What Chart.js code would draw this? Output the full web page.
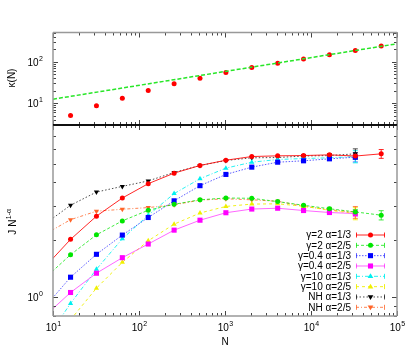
<!DOCTYPE html>
<html>
<head>
<meta charset="utf-8">
<script src="https://cdn.jsdelivr.net/npm/chart.js@4/dist/chart.umd.min.js"></script>
<style>
  body { margin: 0; background: #fff; }
  #wrap { position: relative; width: 415px; height: 348px; }
  canvas { position: absolute; left: 0; top: 0; }
</style>
</head>
<body>
<div id="wrap">
  <canvas id="kappaChart" width="415" height="348"></canvas>
  <canvas id="jChart" width="415" height="348"></canvas>
</div>
<script>
// ---- top panel: kappa(N) ----
const kappaN = [16, 32, 64, 128, 256, 512, 1024, 2048, 4096, 8192, 16384, 32768, 65536];
const kappa = [5.07, 8.66, 13.2, 20.2, 29.2, 40, 54.5, 71.8, 91.6, 116, 147, 184, 238];
const fitN = [10, 100000];
const fitKappa = [12.5, 268];

// ---- bottom panel: J N^(1-alpha) ----
const sizes = [8, 16, 32, 64, 128, 256, 512, 1024, 2048, 4096, 8192, 16384, 32768, 65536];
const g2a13 = [1.44, 2.015, 2.665, 3.318, 3.943, 4.477, 4.911, 5.233, 5.47, 5.516, 5.535, 5.583, 5.503, 5.651];
const g2a25 = [1.259, 1.675, 2.128, 2.518, 2.863, 3.076, 3.247, 3.318, 3.306, 3.177, 3.04, 2.915, 2.805, 2.697];
const g04a13 = [0.889, 1.277, 1.683, 2.122, 2.623, 3.208, 3.85, 4.409, 4.813, 5.109, 5.196, 5.321, 5.425, null];
const g04a25 = [0.798, 1.062, 1.34, 1.616, 1.905, 2.252, 2.539, 2.778, 2.904, 2.933, 2.853, 2.785, 2.752, null];
const g10a13 = [0.588, 0.931, 1.406, 2.029, 2.697, 3.498, 4.187, 4.755, 5.109, 5.277, 5.341, 5.386, 5.47, null];
const g10a25 = [null, 0.765, 1.119, 1.528, 1.981, 2.42, 2.768, 2.997, 3.083, 3.094, 3.004, 2.863, 2.752, null];
const nha13 = [2.42, 3.04, 3.565, 3.817, 4.077, 4.515, 4.911, 5.214, 5.386, 5.405, 5.503, 5.535, 5.651, null];
const nha25 = [2.139, 2.555, 2.829, 2.897, 2.956, 3.058, 3.235, 3.287, 3.247, 3.189, 3.004, 2.88, 2.795, null];

// error bars (only the largest sizes have visible ones)
const errG2a13 = [0, 0, 0, 0, 0, 0, 0, 0, 0, 0, 0.05, 0.08, 0.12, 0.3];
const errG2a25 = [0, 0, 0, 0, 0, 0, 0, 0, 0, 0, 0.03, 0.05, 0.08, 0.15];
const errG04a13 = [0, 0, 0, 0, 0, 0, 0, 0, 0, 0, 0.05, 0.08, 0.3, null];
const errG04a25 = [0, 0, 0, 0, 0, 0, 0, 0, 0, 0, 0.03, 0.05, 0.1, null];
const errG10a13 = [0, 0, 0, 0, 0, 0, 0, 0, 0, 0, 0.05, 0.1, 0.4, null];
const errG10a25 = [0, 0, 0, 0, 0, 0, 0, 0, 0, 0, 0.03, 0.06, 0.2, null];
const errNha13 = [0, 0, 0, 0, 0, 0, 0, 0, 0, 0, 0.05, 0.1, 0.35, null];
const errNha25 = [0, 0, 0, 0, 0, 0, 0, 0, 0, 0, 0.03, 0.06, 0.2, null];

const labels = ['γ=2 α=1/3', 'γ=2 α=2/5', 'γ=0.4 α=1/3', 'γ=0.4 α=2/5',
                'γ=10 α=1/3', 'γ=10 α=2/5', 'NH α=1/3', 'NH α=2/5'];

const FONT = '"Liberation Sans", Arial, sans-serif';

function pts(xs, ys) {
  return xs.map((x, i) => ({x: x, y: ys[i]}));
}

function logTicks(min, max) {
  const out = [];
  for (let d = Math.floor(Math.log10(min)) - 1; d <= Math.ceil(Math.log10(max)); d++) {
    for (let m = 1; m <= 9; m++) {
      const v = m * Math.pow(10, d);
      if (v >= min * 0.9999 && v <= max * 1.0001) out.push({v: v, major: m === 1, exp: d});
    }
  }
  return out;
}

function drawPow(ctx, exp, x, y, align) {
  ctx.font = '10px ' + FONT;
  const w1 = ctx.measureText('10').width;
  ctx.font = '7px ' + FONT;
  const w2 = ctx.measureText(String(exp)).width;
  const tot = w1 + w2 + 0.5;
  const x0 = align === 'right' ? x - tot : x - tot / 2;
  ctx.fillStyle = '#000';
  ctx.textAlign = 'left';
  ctx.textBaseline = 'middle';
  ctx.font = '10px ' + FONT;
  ctx.fillText('10', x0, y);
  ctx.font = '7px ' + FONT;
  ctx.fillText(String(exp), x0 + w1 + 0.5, y - 4);
}

function seg(ctx, x1, y1, x2, y2) {
  ctx.beginPath();
  ctx.moveTo(x1, y1);
  ctx.lineTo(x2, y2);
  ctx.stroke();
}

function marker(ctx, style, x, y, r, color) {
  ctx.save();
  ctx.fillStyle = color;
  ctx.setLineDash([]);
  ctx.beginPath();
  if (style === 'circle') {
    ctx.arc(x, y, r, 0, Math.PI * 2);
  } else if (style === 'rect') {
    const s = r * Math.SQRT1_2;
    ctx.rect(x - s, y - s, 2 * s, 2 * s);
  } else {
    const dir = style === 'down' ? -1 : 1;
    ctx.moveTo(x, y - dir * r);
    ctx.lineTo(x + r * 0.95, y + dir * r * 0.6);
    ctx.lineTo(x - r * 0.95, y + dir * r * 0.6);
    ctx.closePath();
  }
  ctx.fill();
  ctx.restore();
}

// frame, inward ticks and tick labels, gnuplot style
function framePlugin(cfg) {
  return {
    id: 'frame',
    afterDatasetsDraw(chart) {
      const ctx = chart.ctx;
      const {left, right, top, bottom} = chart.chartArea;
      const xs = chart.scales.x, ys = chart.scales.y;
      ctx.save();
      ctx.strokeStyle = '#444';
      ctx.lineWidth = 1;
      logTicks(xs.min, xs.max).forEach(t => {
        const px = Math.round(xs.getPixelForValue(t.v)) + 0.5;
        const len = t.major ? 5 : 3;
        seg(ctx, px, bottom, px, bottom - len);
        seg(ctx, px, top, px, top + len);
        if (cfg.xLabels && t.major) drawPow(ctx, t.exp, px, bottom + 12, 'center');
      });
      logTicks(ys.min, ys.max).forEach(t => {
        const py = Math.round(ys.getPixelForValue(t.v)) + 0.5;
        const len = t.major ? 5 : 3;
        seg(ctx, left, py, left + len, py);
        seg(ctx, right, py, right - len, py);
        if (t.major) drawPow(ctx, t.exp, left - 10, py + 1, 'right');
      });
      ctx.lineWidth = 1.5;
      ctx.strokeStyle = '#999';
      seg(ctx, left, top, left, bottom);
      seg(ctx, right, top, right, bottom);
      ctx.strokeStyle = cfg.topColor;
      seg(ctx, left, top, right, top);
      ctx.strokeStyle = cfg.bottomColor;
      seg(ctx, left, bottom, right, bottom);
      ctx.restore();
    }
  };
}

const errorPlugin = {
  id: 'errbars',
  beforeDatasetsDraw(chart) {
    const ctx = chart.ctx;
    const ys = chart.scales.y;
    ctx.save();
    ctx.lineWidth = 1;
    chart.data.datasets.forEach((ds, i) => {
      if (!ds.errors) return;
      const meta = chart.getDatasetMeta(i);
      ctx.strokeStyle = ds.errColor;
      meta.data.forEach((el, j) => {
        const e = ds.errors[j];
        const v = ds.data[j].y;
        if (!e || v == null) return;
        const y1 = ys.getPixelForValue(v - e), y2 = ys.getPixelForValue(v + e);
        seg(ctx, el.x, y1, el.x, y2);
        seg(ctx, el.x - 2.5, y1, el.x + 2.5, y1);
        seg(ctx, el.x - 2.5, y2, el.x + 2.5, y2);
      });
    });
    ctx.restore();
  }
};

const legendPlugin = {
  id: 'rightLegend',
  afterDraw(chart) {
    const ctx = chart.ctx;
    ctx.save();
    chart.data.datasets.forEach((ds, i) => {
      const y = 235 + i * 10.33;
      ctx.fillStyle = '#000';
      ctx.font = '10px ' + FONT;
      ctx.textAlign = 'right';
      ctx.textBaseline = 'middle';
      ctx.fillText(ds.label, 351, y + 0.5);
      ctx.strokeStyle = ds.errColor;
      ctx.lineWidth = 1;
      ctx.setLineDash(ds.borderDash || []);
      seg(ctx, 356, y, 385, y);
      ctx.setLineDash([]);
      seg(ctx, 356.5, y - 2.5, 356.5, y + 2.5);
      seg(ctx, 384.5, y - 2.5, 384.5, y + 2.5);
      marker(ctx, ds.mark, 370.5, y, ds.pointRadius, ds.pointBackgroundColor);
    });
    ctx.restore();
  }
};

const titlePluginTop = {
  id: 'titlesTop',
  afterDraw(chart) {
    const ctx = chart.ctx;
    ctx.save();
    ctx.translate(12, 78);
    ctx.rotate(-Math.PI / 2);
    ctx.fillStyle = '#000';
    ctx.font = '10px ' + FONT;
    ctx.textAlign = 'center';
    ctx.textBaseline = 'middle';
    ctx.fillText('κ(N)', 0, 0);
    ctx.restore();
  }
};

const titlePluginBottom = {
  id: 'titlesBottom',
  afterDraw(chart) {
    const ctx = chart.ctx;
    ctx.save();
    ctx.fillStyle = '#000';
    ctx.font = '10px ' + FONT;
    ctx.textAlign = 'center';
    ctx.textBaseline = 'middle';
    ctx.fillText('N', 225, 342);
    ctx.translate(13, 222);
    ctx.rotate(-Math.PI / 2);
    const w1 = ctx.measureText('J N').width;
    ctx.font = '7px ' + FONT;
    const w2 = ctx.measureText('1-α').width;
    const x0 = -(w1 + w2) / 2;
    ctx.textAlign = 'left';
    ctx.font = '10px ' + FONT;
    ctx.fillText('J N', x0, 0);
    ctx.font = '7px ' + FONT;
    ctx.fillText('1-α', x0 + w1 + 0.5, -4);
    ctx.restore();
  }
};

function logAxes(ymin, ymax) {
  return {
    x: {type: 'logarithmic', min: 10, max: 100000, display: false},
    y: {type: 'logarithmic', min: ymin, max: ymax, display: false}
  };
}

new Chart(document.getElementById('kappaChart'), {
  type: 'line',
  data: {
    datasets: [{
      data: pts(fitN, fitKappa),
      borderColor: 'rgb(40,230,40)',
      borderWidth: 1.5,
      borderDash: [4, 2],
      pointRadius: 0,
      fill: false
    }, {
      data: pts(kappaN, kappa),
      showLine: false,
      pointRadius: 2.5,
      pointBackgroundColor: 'rgb(255,0,0)',
      pointBorderWidth: 0
    }]
  },
  options: {
    responsive: false,
    animation: false,
    events: [],
    devicePixelRatio: 1,
    layout: {padding: {left: 53, right: 18, top: 32.5, bottom: 223}},
    scales: logAxes(3, 500),
    plugins: {legend: {display: false}, tooltip: {enabled: false}}
  },
  plugins: [framePlugin({xLabels: false, topColor: '#999', bottomColor: '#000'}), titlePluginTop]
});

const styles = [
  {data: g2a13, err: errG2a13, color: 'rgb(255,0,0)', line: 'rgba(255,0,0,0.85)', dash: [], mark: 'circle', r: 2.5},
  {data: g2a25, err: errG2a25, color: 'rgb(0,230,0)', line: 'rgba(0,230,0,0.75)', dash: [3, 2], mark: 'circle', r: 2.5},
  {data: g04a13, err: errG04a13, color: 'rgb(0,0,255)', line: 'rgba(40,40,255,0.75)', dash: [1.5, 1.5], mark: 'rect', r: 3.6},
  {data: g04a25, err: errG04a25, color: 'rgb(255,0,255)', line: 'rgba(255,0,255,0.6)', dash: [], mark: 'rect', r: 3.6},
  {data: g10a13, err: errG10a13, color: 'rgb(0,240,240)', line: 'rgba(0,240,240,0.85)', dash: [4, 2, 1, 2], mark: 'up', r: 3},
  {data: g10a25, err: errG10a25, color: 'rgb(240,240,0)', line: 'rgba(240,240,0,0.9)', dash: [3, 3], mark: 'up', r: 3},
  {data: nha13, err: errNha13, color: 'rgb(0,0,0)', line: 'rgba(0,0,0,0.7)', dash: [1.5, 2], mark: 'down', r: 3},
  {data: nha25, err: errNha25, color: 'rgb(255,100,40)', line: 'rgba(255,100,40,0.8)', dash: [3, 2, 1, 2], mark: 'down', r: 3}
];

new Chart(document.getElementById('jChart'), {
  type: 'line',
  data: {
    datasets: styles.map((s, i) => ({
      label: labels[i],
      data: pts(sizes, s.data),
      errors: s.err,
      errColor: s.line,
      mark: s.mark,
      borderColor: s.line,
      borderWidth: 1,
      borderDash: s.dash,
      pointStyle: s.mark === 'circle' ? 'circle' : (s.mark === 'rect' ? 'rect' : 'triangle'),
      rotation: s.mark === 'down' ? 180 : 0,
      pointRadius: s.r,
      pointBackgroundColor: s.color,
      pointBorderWidth: 0,
      tension: 0,
      fill: false,
      spanGaps: false
    }))
  },
  options: {
    responsive: false,
    animation: false,
    events: [],
    devicePixelRatio: 1,
    layout: {padding: {left: 53, right: 18, top: 125, bottom: 32}},
    scales: logAxes(0.8, 8),
    plugins: {legend: {display: false}, tooltip: {enabled: false}}
  },
  plugins: [errorPlugin, framePlugin({xLabels: true, topColor: '#000', bottomColor: '#999'}), legendPlugin, titlePluginBottom]
});
</script>
</body>
</html>
